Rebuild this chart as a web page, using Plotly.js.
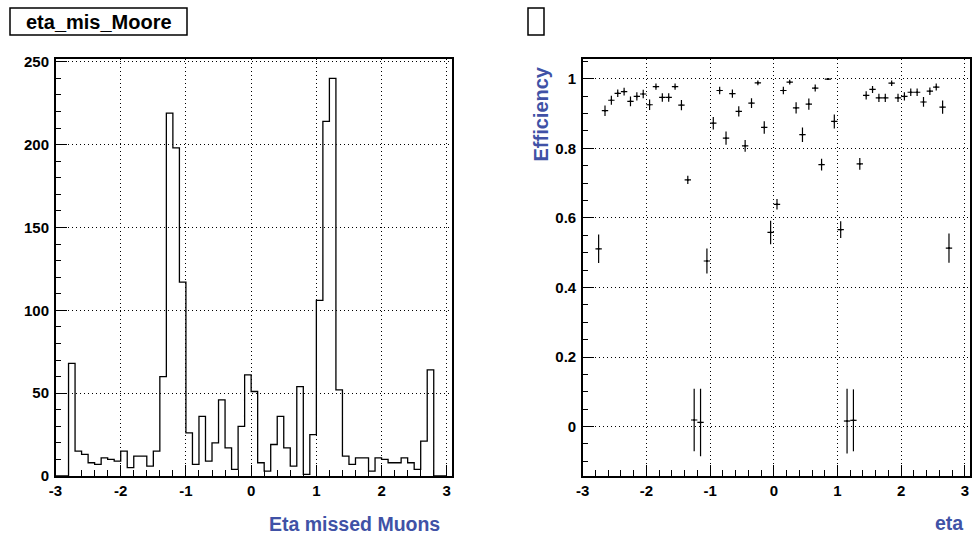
<!DOCTYPE html>
<html>
<head>
<meta charset="utf-8">
<script src="https://cdn.plot.ly/plotly-3.0.1.min.js"></script>
<style>html,body{margin:0;padding:0;background:#fff;}#chart{width:973px;height:538px;}</style>
</head>
<body>
<div id="chart"></div>
<script>
// ---- Histogram: missed muons vs eta (bins of 0.1 from -3 to 3) ----
const histLowEdge = -3.0;
const histBinWidth = 0.1;
const histCounts = [
  0, 0, 68, 15, 13, 8, 7, 11, 10, 9,
  15, 5, 12, 12, 6, 15, 60, 219, 198, 117,
  26, 7, 36, 9, 20, 46, 17, 4, 30, 61,
  51, 8, 3, 19, 36, 17, 6, 54, 1, 25,
  106, 214, 240, 52, 12, 7, 11, 11, 3, 11,
  10, 8, 8, 11, 8, 4, 21, 64, 0, 0
];

// ---- Efficiency vs eta ----
const effEta = [
  -2.75, -2.65, -2.55, -2.45, -2.35, -2.25, -2.15, -2.05, -1.95, -1.85,
  -1.75, -1.65, -1.55, -1.45, -1.35, -1.25, -1.15, -1.05, -0.95, -0.85,
  -0.75, -0.65, -0.55, -0.45, -0.35, -0.25, -0.15, -0.05, 0.05, 0.15,
  0.25, 0.35, 0.45, 0.55, 0.65, 0.75, 0.85, 0.95, 1.05, 1.15,
  1.25, 1.35, 1.45, 1.55, 1.65, 1.75, 1.85, 1.95, 2.05, 2.15,
  2.25, 2.35, 2.45, 2.55, 2.65, 2.75
];
const effValues = [
  0.511, 0.908, 0.938, 0.958, 0.963, 0.935, 0.949, 0.956, 0.925, 0.977,
  0.946, 0.946, 0.977, 0.924, 0.709, 0.019, 0.012, 0.476, 0.872, 0.966,
  0.829, 0.957, 0.906, 0.807, 0.930, 0.988, 0.860, 0.558, 0.639, 0.966,
  0.990, 0.916, 0.839, 0.927, 0.973, 0.753, 0.999, 0.877, 0.566, 0.016,
  0.018, 0.755, 0.952, 0.969, 0.945, 0.945, 0.987, 0.945, 0.949, 0.961,
  0.961, 0.933, 0.964, 0.976, 0.918, 0.513
];
const effErrors = [
  0.041, 0.015, 0.013, 0.011, 0.011, 0.014, 0.012, 0.012, 0.015, 0.009,
  0.012, 0.012, 0.009, 0.015, 0.012, 0.090, 0.097, 0.036, 0.018, 0.011,
  0.019, 0.012, 0.015, 0.017, 0.014, 0.007, 0.018, 0.034, 0.015, 0.011,
  0.007, 0.016, 0.021, 0.016, 0.010, 0.017, 0.003, 0.020, 0.024, 0.093,
  0.089, 0.017, 0.012, 0.010, 0.012, 0.012, 0.008, 0.012, 0.012, 0.011,
  0.011, 0.014, 0.011, 0.010, 0.019, 0.042
];
const effHalfWidth = 0.05;

const xTickVals = [-3, -2, -1, 0, 1, 2, 3];
const xTickText = ["-3", "-2", "-1", "0", "1", "2", "3"];
const histYTicks = [0, 50, 100, 150, 200, 250];
const histYText = ["0", "50", "100", "150", "200", "250"];
const effYTicks = [0, 0.2, 0.4, 0.6, 0.8, 1];
const effYText = ["0", "0.2", "0.4", "0.6", "0.8", "1"];

// step outline built from the bin edges
const hx = [], hy = [];
for (let i = 0; i < histCounts.length; i++) {
  hx.push(histLowEdge + i * histBinWidth);
  hy.push(histCounts[i]);
}
hx.push(histLowEdge + histCounts.length * histBinWidth);
hy.push(histCounts[histCounts.length - 1]);

const W = 973, H = 538;
const px = v => v / W;
const py = v => 1 - v / H;
const bold = arr => arr.map(s => "<b>" + s + "</b>");

const FONT = "Liberation Sans, Arial, Helvetica, sans-serif";
const BLUE = "#4052a6";
const tickFont = {family: FONT, size: 15, color: "#000"};
const GRIDDASH = "1px,3px";

function xAxis(domain) {
  return {
    domain: domain, range: [-3, 3.08], tickmode: "array", tickvals: xTickVals, ticktext: bold(xTickText),
    ticks: "inside", ticklen: 11, tickwidth: 1, tickcolor: "#000",
    showline: true, linecolor: "#000", linewidth: 1.5, mirror: true,
    showgrid: true, gridcolor: "#000", gridwidth: 1, griddash: GRIDDASH,
    zeroline: false, tickfont: tickFont,
    minor: {dtick: 0.2, ticks: "inside", ticklen: 6, tickcolor: "#000", tickwidth: 1, showgrid: false}
  };
}

const traces = [
  {
    type: "scatter", mode: "lines", x: hx, y: hy,
    line: {shape: "hv", color: "#000", width: 1.3},
    xaxis: "x", yaxis: "y", hoverinfo: "skip", showlegend: false
  },
  {
    type: "scatter", mode: "markers", x: effEta, y: effValues,
    marker: {size: 2, color: "#000"},
    error_y: {type: "data", array: effErrors, visible: true, color: "#000", thickness: 1.2, width: 0},
    error_x: {type: "constant", value: effHalfWidth, visible: true, color: "#000", thickness: 1.2, width: 0},
    xaxis: "x2", yaxis: "y2", hoverinfo: "skip", showlegend: false
  }
];

const yDomain = [py(476), py(58.5)];

const layout = {
  width: W, height: H,
  margin: {l: 0, r: 0, t: 0, b: 0},
  paper_bgcolor: "#fff", plot_bgcolor: "#fff",
  showlegend: false,
  xaxis: xAxis([px(55.5), px(452)]),
  xaxis2: Object.assign(xAxis([px(582.7), px(970)]), {anchor: "y2"}),
  yaxis: {
    domain: yDomain, range: [0, 252], tickmode: "array", tickvals: histYTicks, ticktext: bold(histYText),
    ticks: "inside", ticklen: 11, tickwidth: 1, tickcolor: "#000",
    showline: true, linecolor: "#000", linewidth: 1.5, mirror: true,
    showgrid: true, gridcolor: "#000", gridwidth: 1, griddash: GRIDDASH,
    zeroline: false, tickfont: tickFont, ticklabelstandoff: 2,
    minor: {dtick: 10, ticks: "inside", ticklen: 5.5, tickcolor: "#000", tickwidth: 1, showgrid: false}
  },
  yaxis2: {
    domain: yDomain, range: [-0.142, 1.058], tickmode: "array", tickvals: effYTicks, ticktext: bold(effYText), anchor: "x2",
    ticks: "inside", ticklen: 11, tickwidth: 1, tickcolor: "#000",
    showline: true, linecolor: "#000", linewidth: 1.5, mirror: true,
    showgrid: true, gridcolor: "#000", gridwidth: 1, griddash: GRIDDASH,
    zeroline: false, tickfont: tickFont, ticklabelstandoff: 2,
    minor: {dtick: 0.05, ticks: "inside", ticklen: 5.5, tickcolor: "#000", tickwidth: 1, showgrid: false}
  },
  shapes: [
    {type: "rect", xref: "paper", yref: "paper", x0: px(10), x1: px(187), y0: py(35), y1: py(8),
     line: {color: "#000", width: 1.5}, fillcolor: "#fff"},
    {type: "rect", xref: "paper", yref: "paper", x0: px(528), x1: px(544), y0: py(35), y1: py(8),
     line: {color: "#000", width: 1.5}, fillcolor: "#fff"}
  ],
  annotations: [
    {text: "<b>eta_mis_Moore</b>", xref: "paper", yref: "paper", x: px(98.5), y: py(21.5),
     xanchor: "center", yanchor: "middle", showarrow: false,
     font: {family: FONT, size: 20, color: "#000"}},
    {text: "<b>Eta missed Muons</b>", xref: "paper", yref: "paper", x: px(442), y: py(524),
     xanchor: "right", yanchor: "middle", showarrow: false,
     font: {family: FONT, size: 19.5, color: BLUE}},
    {text: "<b>eta</b>", xref: "paper", yref: "paper", x: px(965), y: py(523),
     xanchor: "right", yanchor: "middle", showarrow: false,
     font: {family: FONT, size: 19.5, color: BLUE}},
    {text: "<b>Efficiency</b>", xref: "paper", yref: "paper", x: px(540), y: py(65),
     xanchor: "center", yanchor: "top", textangle: -90, showarrow: false,
     font: {family: FONT, size: 20, color: BLUE}}
  ]
};

Plotly.newPlot("chart", traces, layout, {staticPlot: true, displayModeBar: false});
</script>
</body>
</html>
